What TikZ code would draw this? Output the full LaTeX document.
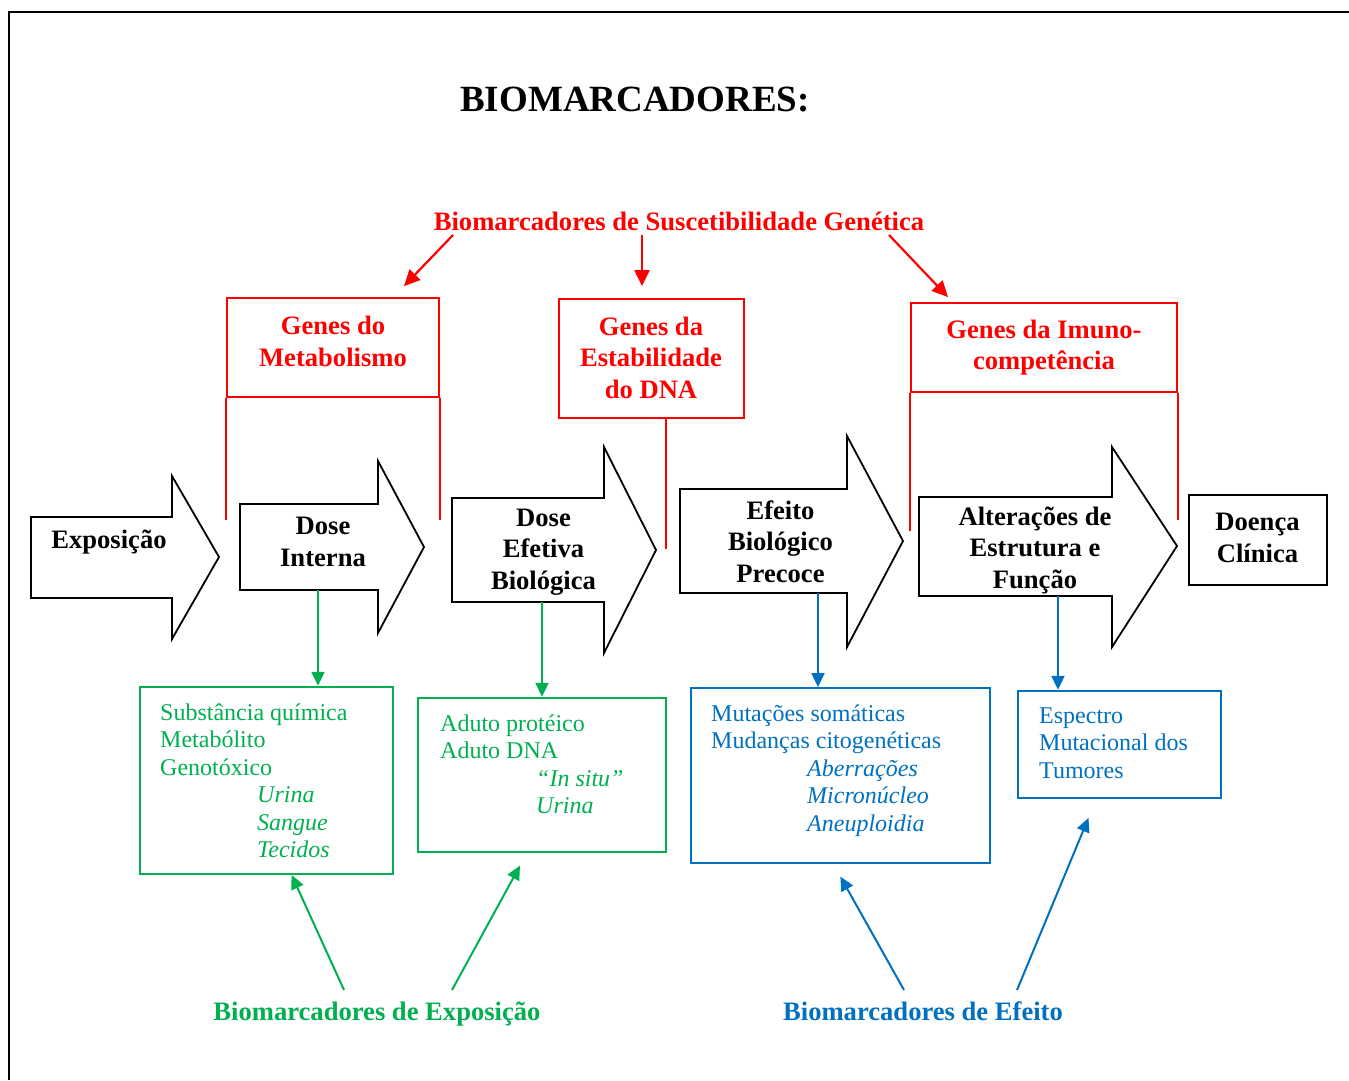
\documentclass[tikz,border=0pt]{standalone}
\usepackage{fontspec}
\setmainfont{Liberation Serif}
\usetikzlibrary{arrows.meta}
\definecolor{genered}{RGB}{255,0,0}
\definecolor{expgreen}{RGB}{0,176,80}
\definecolor{effblue}{RGB}{0,112,192}
\tikzset{
  stage/.style={draw=black, line width=1.8pt, fill=white, line join=miter},
  stagetext/.style={font=\bfseries\fontsize{26.6}{31.5}\selectfont, align=center, anchor=base, inner sep=0pt},
  redbox/.style={draw=genered, line width=1.8pt, inner sep=0pt},
  redlab/.style={stagetext, text=genered},
  redarrow/.style={draw=genered, line width=2.2pt, -{Triangle[length=16pt,width=15pt]}},
  gbox/.style={draw=expgreen, line width=1.8pt, inner sep=0pt},
  bbox/.style={draw=effblue, line width=1.8pt, inner sep=0pt},
  listtext/.style={font=\fontsize{24}{27.5}\selectfont, align=left, anchor=base west, inner sep=0pt},
  garrow/.style={draw=expgreen, line width=2pt, -{Triangle[length=14pt,width=13pt]}},
  barrow/.style={draw=effblue, line width=2pt, -{Triangle[length=14pt,width=13pt]}}
}
\begin{document}
\begin{tikzpicture}[x=1pt,y=-1pt]
\useasboundingbox (0,0) rectangle (1349,1080);
\fill[white] (0,0) rectangle (1349,1080);
\draw[line width=2.6pt] (1349,12) -- (9,12) -- (9,1080);
\node[font=\bfseries\fontsize{37}{41}\selectfont, anchor=base, inner sep=0pt] (title) at (635,111.5) {BIOMARCADORES:};
\node[redlab] (susc) at (679,230) {Biomarcadores de Suscetibilidade Genética};
\node[redbox, minimum width=212, minimum height=99] (metab) at (333,347.5) {};
\node[redbox, minimum width=185, minimum height=119] (estab) at (651.5,358.5) {};
\node[redbox, minimum width=266, minimum height=89] (imuno) at (1044,347.5) {};
\node[redlab] (metabtx) at (333,366) {Genes do\\Metabolismo};
\node[redlab] (estabtx) at (651,398) {Genes da\\Estabilidade\\do DNA};
\node[redlab] (imunotx) at (1044,369.5) {Genes da Imuno-\\competência};
\coordinate (sa) at (453,235);
\coordinate (sb) at (642,235);
\coordinate (sc) at (889,235);
\draw[redarrow] (sa) -- ([xshift=71pt,yshift=11pt]metab.north);
\draw[redarrow] (sb) -- ([xshift=-9.5pt,yshift=12pt]estab.north);
\draw[redarrow] (sc) -- ([xshift=-96pt,yshift=5pt]imuno.north);
\draw[genered, line width=1.8pt] (metab.south west) -- ++(0,122);
\draw[genered, line width=1.8pt] (metab.south east) -- ++(0,122);
\draw[genered, line width=1.8pt] ([xshift=14.5pt]estab.south) -- ++(0,130);
\draw[genered, line width=1.8pt] (imuno.south west) -- ++(0,138);
\draw[genered, line width=1.8pt] (imuno.south east) -- ++(0,127);
\draw[stage] (31,517) -- (172,517) -- (172,476) -- (219,557) -- (172,639) -- (172,598) -- (31,598) -- cycle;
\draw[stage] (240,504) -- (378,504) -- (378,461) -- (424,547) -- (378,633) -- (378,590) -- (240,590) -- cycle;
\draw[stage] (452,498) -- (604,498) -- (604,447) -- (656,550) -- (604,653) -- (604,602) -- (452,602) -- cycle;
\draw[stage] (680,489) -- (847,489) -- (847,436) -- (903,541) -- (847,647) -- (847,593) -- (680,593) -- cycle;
\draw[stage] (919,497) -- (1112,497) -- (1112,447) -- (1177,546) -- (1112,647) -- (1112,596) -- (919,596) -- cycle;
\node[draw, line width=1.8pt, minimum width=138, minimum height=90] (doenca) at (1258,540) {};
\node[stagetext] (expo) at (109,548) {Exposição};
\node[stagetext] (dosein) at (323,566) {Dose\\Interna};
\node[stagetext] (doseef) at (543.5,589) {Dose\\Efetiva\\Biológica};
\node[stagetext] (efeito) at (780.5,582) {Efeito\\Biológico\\Precoce};
\node[stagetext] (alter) at (1035,588) {Alterações de\\Estrutura e\\Função};
\node[stagetext] (doentx) at (1257.5,562) {Doença\\Clínica};
\coordinate (dinbot) at (318,590);
\coordinate (defbot) at (542,602);
\coordinate (efbot) at (818,593);
\coordinate (altbot) at (1058,596);
\node[gbox, minimum width=253.4, minimum height=187.3] (subst) at (266.3,780.35) {};
\node[gbox, minimum width=248, minimum height=154] (aduto) at (542,774.7) {};
\node[bbox, minimum width=299.3, minimum height=174.7] (mutac) at (840.35,775.35) {};
\node[bbox, minimum width=203, minimum height=107.3] (espec) at (1119.5,744.35) {};
\node[listtext, text=expgreen] (substtx) at (160,857.5) {Substância química\\Metabólito\\Genotóxico\\\hspace*{97pt}\textit{Urina}\\\hspace*{97pt}\textit{Sangue}\\\hspace*{97pt}\textit{Tecidos}};
\node[listtext, text=expgreen] (adutotx) at (440,813.5) {Aduto protéico\\Aduto DNA\\\hspace*{96pt}\textit{“In situ”}\\\hspace*{96pt}\textit{Urina}};
\node[listtext, text=effblue] (mutactx) at (711,831) {Mutações somáticas\\Mudanças citogenéticas\\\hspace*{96pt}\textit{Aberrações}\\\hspace*{96pt}\textit{Micronúcleo}\\\hspace*{96pt}\textit{Aneuploidia}};
\node[listtext, text=effblue] (espectx) at (1039,778) {Espectro\\Mutacional dos\\Tumores};
\draw[garrow] (dinbot) -- (dinbot |- subst.north);
\draw[garrow] (defbot) -- (defbot |- aduto.north);
\draw[barrow] (efbot) -- (efbot |- mutac.north);
\draw[barrow] (altbot) -- (altbot |- espec.north);
\node[stagetext, text=expgreen] (expolab) at (377,1020) {Biomarcadores de Exposição};
\node[stagetext, text=effblue] (efeilab) at (923,1020) {Biomarcadores de Efeito};
\coordinate (ea) at (344,990);
\coordinate (eb) at (452,990);
\coordinate (fa) at (904,990);
\coordinate (fb) at (1017,990);
\draw[garrow] (ea) -- ([xshift=25.3pt]subst.south);
\draw[garrow] (eb) -- ([xshift=-22pt,yshift=-13pt]aduto.south);
\draw[barrow] (fa) -- ([yshift=-13pt]mutac.south);
\draw[barrow] (fb) -- ([xshift=-31pt,yshift=-19pt]espec.south);
\end{tikzpicture}
\end{document}
